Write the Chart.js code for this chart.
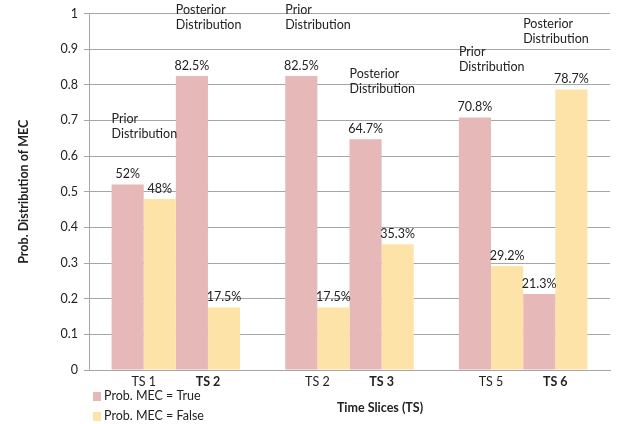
<!DOCTYPE html>
<html>
<head>
<meta charset="utf-8">
<script src="https://cdn.jsdelivr.net/npm/chart.js@4.4.1/dist/chart.umd.min.js"></script>
<style>
  html, body { margin: 0; padding: 0; background: #fff; }
  #wrap { position: relative; width: 620px; height: 424px; }
</style>
</head>
<body>
<div id="wrap"><canvas id="chart-1" width="620" height="424"></canvas></div>
<script>
// three clusters, each holding two time slices (prior / posterior)
const groups = ['Step 1', 'Step 2', 'Step 3'];
const pairLabels = [['TS 1', 'TS 2'], ['TS 2', 'TS 3'], ['TS 5', 'TS 6']];
const pairNotes = [['Prior', 'Distribution'], ['Posterior', 'Distribution']];
const seriesNames = ['Prob. MEC = True', 'Prob. MEC = False'];

const trueFirst = [0.52, 0.825, 0.708];
const falseFirst = [0.48, 0.175, 0.292];
const trueSecond = [0.825, 0.647, 0.213];
const falseSecond = [0.175, 0.353, 0.787];

const yTicks = [0, 0.1, 0.2, 0.3, 0.4, 0.5, 0.6, 0.7, 0.8, 0.9, 1];

const PINK = '#e6b9b8';
const YELLOW = '#fee3a9';
const FONT = 'Lato, "Open Sans", sans-serif';

function pct(v) {
    return (Math.round(v * 1000) / 10) + '%';
}

// value labels, pair labels, notes, x title and legend
const extras = {
    id: 'extras',
    afterDatasetsDraw(chart) {
        const ctx = chart.ctx;
        const area = chart.chartArea;
        const metas = [0, 1, 2, 3].map(i => chart.getDatasetMeta(i));
        ctx.save();
        ctx.fillStyle = '#222';

        // value labels on top of bars
        ctx.font = '12.5px ' + FONT;
        ctx.textAlign = 'center';
        ctx.textBaseline = 'bottom';
        metas.forEach((meta, di) => {
            meta.data.forEach((bar, gi) => {
                const v = chart.data.datasets[di].data[gi];
                ctx.fillText(pct(v), bar.x, bar.y - 4);
            });
        });

        // pair labels under the axis and notes above each pair
        groups.forEach((g, gi) => {
            [0, 1].forEach(p => {
                const a = metas[p * 2].data[gi];
                const b = metas[p * 2 + 1].data[gi];
                const cx = (a.x + b.x) / 2;
                ctx.textAlign = 'center';
                ctx.textBaseline = 'top';
                ctx.font = (p === 1 ? 'bold ' : '') + '12.5px ' + FONT;
                ctx.fillText(pairLabels[gi][p], cx, area.bottom + 6);

                const left = a.x - a.width / 2;
                const top = Math.min(a.y, b.y) - 72;
                ctx.font = '12.5px ' + FONT;
                ctx.textAlign = 'left';
                pairNotes[p].forEach((line, li) => {
                    ctx.fillText(line, left, top + li * 15);
                });
            });
        });

        // x axis title
        ctx.font = 'bold 12.5px ' + FONT;
        ctx.textAlign = 'center';
        ctx.textBaseline = 'middle';
        ctx.fillText('Time Slices (TS)', 380, 408);

        // legend (vertical, bottom left)
        ctx.font = '12.5px ' + FONT;
        ctx.textAlign = 'left';
        [PINK, YELLOW].forEach((c, i) => {
            const y = 396 + i * 20;
            ctx.fillStyle = c;
            ctx.fillRect(93, y - 4, 8, 9);
            ctx.fillStyle = '#222';
            ctx.fillText(seriesNames[i], 104, y);
        });
        ctx.restore();
    }
};

const ctx = document.getElementById('chart-1').getContext('2d');
const barOpts = { barPercentage: 1.0, categoryPercentage: 0.74, borderWidth: 0 };

new Chart(ctx, {
    type: 'bar',
    data: {
        labels: groups,
        datasets: [
            { label: seriesNames[0], data: trueFirst, backgroundColor: PINK, ...barOpts },
            { label: seriesNames[1], data: falseFirst, backgroundColor: YELLOW, ...barOpts },
            { label: seriesNames[0], data: trueSecond, backgroundColor: PINK, ...barOpts },
            { label: seriesNames[1], data: falseSecond, backgroundColor: YELLOW, ...barOpts }
        ]
    },
    options: {
        responsive: false,
        animation: false,
        layout: { padding: { top: 8, right: 10, bottom: 46, left: 0 } },
        plugins: {
            legend: { display: false },
            tooltip: { enabled: false }
        },
        scales: {
            x: {
                grid: { display: false },
                border: { display: true, color: '#a6a6a6' },
                ticks: { display: false }
            },
            y: {
                min: 0,
                max: 1,
                afterBuildTicks: axis => { axis.ticks = yTicks.map(v => ({ value: v })); },
                afterFit: axis => { axis.width = 89; },
                grid: { color: '#a6a6a6', tickLength: 5 },
                border: { display: true, color: '#a6a6a6' },
                ticks: {
                    color: '#222',
                    font: { family: FONT, size: 12.5 },
                    padding: 6,
                    callback: v => String(+Number(v).toFixed(1))
                },
                title: {
                    display: true,
                    text: 'Prob. Distribution of MEC',
                    color: '#222',
                    font: { family: FONT, size: 12.5, weight: 'bold' },
                    padding: { top: 16, bottom: 0 }
                }
            }
        }
    },
    plugins: [extras]
});
</script>
</body>
</html>
